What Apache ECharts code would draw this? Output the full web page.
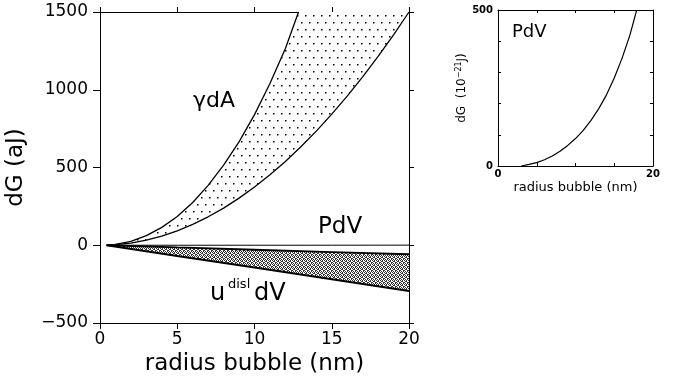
<!DOCTYPE html>
<html><head><meta charset="utf-8">
<script src="https://cdn.jsdelivr.net/npm/echarts@6/dist/echarts.min.js"></script>
<style>html,body{margin:0;padding:0;background:#fff}#c{width:683px;height:383px}</style>
</head><body><div id="c"></div>
<script>
// ---- data ----
const xTicks = [0, 5, 10, 15, 20];
const yTicksMain = [-500, 0, 500, 1000, 1500];
// gamma dA band, upper curve (aJ)
const gdaUpperR = [0.43, 1, 2, 3, 4, 5, 6, 7, 8, 9, 10, 11, 12, 12.85];
const gdaUpperV = [0, 6, 25, 62, 115, 185, 275, 385, 515, 665, 840, 1040, 1265, 1500];
// gamma dA band, lower curve (aJ)
const gdaLowerR = [0.43, 1, 2, 3, 4, 5, 6, 7, 8, 9, 10, 11, 12, 13, 14, 15, 16, 17, 18, 19, 20];
const gdaLowerV = [0, 4, 14, 33, 59, 93, 134, 183, 239, 303, 374, 453, 539, 633, 734, 843, 959, 1083, 1214, 1353, 1500];
// u_disl dV band (aJ)
const udR = [0.43, 5, 10, 15, 20];
const udUpperV = [0, -14, -29, -44, -58];
const udLowerV = [0, -69, -143, -218, -294];
// PdV in main chart (aJ)
const pdvMainR = [0.43, 5, 10, 15, 20];
const pdvMainV = [0, 0.01, 0.09, 0.28, 0.72];
// inset PdV (10^-21 J)
const pdvR = [3, 4, 5, 6, 7, 8, 9, 10, 11, 12, 13, 14, 15, 16, 17, 17.9];
const pdvV = [0, 5, 11, 20, 32, 47, 66, 88, 114, 146, 184, 228, 282, 345, 418, 500];

const MAIN_YMAX = 1500;
const FONT = 'DejaVu Sans';

// ---- patterns ----
function dotPattern() {
  const c = document.createElement('canvas'); c.width = 8; c.height = 14;
  const g = c.getContext('2d'); g.fillStyle = '#fff'; g.fillRect(0, 0, 8, 14);
  g.fillStyle = '#000';
  g.fillRect(1, 1, 1.5, 1.5); g.fillRect(5, 8, 1.5, 1.5);
  return c;
}
function hatchPattern() {
  const rows = ['X.X.', '.XX.', 'X..X', '.X.X'];
  const c = document.createElement('canvas'); c.width = 4; c.height = 4;
  const g = c.getContext('2d'); g.fillStyle = '#fff'; g.fillRect(0, 0, 4, 4);
  g.fillStyle = '#333';
  rows.forEach((r, y) => { for (let x = 0; x < 4; x++) if (r[x] === 'X') g.fillRect(x, y, 1, 1); });
  return c;
}
const dotFill = { image: dotPattern(), repeat: 'repeat' };
const hatchFill = { image: hatchPattern(), repeat: 'repeat' };

function pairs(r, v) { return r.map((x, i) => [x, v[i]]); }

function bandRender(upR, upV, loR, loV, fill) {
  return function (params, api) {
    if (params.dataIndex !== 0) return;
    const pts = [];
    for (let i = 0; i < upR.length; i++) pts.push(api.coord([upR[i], upV[i]]));
    for (let i = loR.length - 1; i >= 0; i--) pts.push(api.coord([loR[i], loV[i]]));
    return { type: 'polygon', shape: { points: pts }, style: { fill: fill, stroke: null } };
  };
}

const gdaTopR = gdaUpperR.concat([20]);
const gdaTopV = gdaUpperV.concat([MAIN_YMAX]);

function lineSeries(r, v, xi, yi, w) {
  return { type: 'line', data: pairs(r, v), xAxisIndex: xi, yAxisIndex: yi, symbol: 'none',
    lineStyle: { color: '#000', width: w }, silent: true, z: 5, clip: true };
}

const axisBase = { axisLine: { show: true, onZero: false, lineStyle: { color: '#000', width: 1 } }, splitLine: { show: false } };

const chart = echarts.init(document.getElementById('c'), null, { renderer: 'canvas' });
chart.setOption({
  animation: false,
  backgroundColor: '#fff',
  grid: [
    { left: 100, top: 12, width: 309, height: 311 },
    { left: 498, top: 10, width: 155, height: 156 }
  ],
  xAxis: [
    Object.assign({}, axisBase, { gridIndex: 0, type: 'value', position: 'bottom', min: xTicks[0], max: xTicks[xTicks.length - 1], interval: 5,
      axisTick: { show: true, inside: false, length: 6, lineStyle: { color: '#000' } },
      axisLabel: { show: true, margin: 8, color: '#000', fontFamily: FONT, fontSize: 17 },
      name: 'radius bubble (nm)', nameLocation: 'middle', nameGap: 26,
      nameTextStyle: { color: '#000', fontFamily: FONT, fontSize: 23 } }),
    Object.assign({}, axisBase, { gridIndex: 0, type: 'value', position: 'top', min: 0, max: 20, interval: 5,
      axisTick: { show: true, inside: false, length: 5, lineStyle: { color: '#000' } }, axisLabel: { show: false } }),
    Object.assign({}, axisBase, { gridIndex: 1, type: 'value', position: 'bottom', min: 0, max: 20, interval: 5,
      axisTick: { show: true, inside: true, length: 3, lineStyle: { color: '#000' } },
      axisLabel: { show: true, margin: 3, color: '#000', fontFamily: FONT, fontSize: 10, fontWeight: 'bold',
        formatter: v => (v === 0 || v === 20) ? String(v) : '' },
      name: 'radius bubble (nm)', nameLocation: 'middle', nameGap: 15,
      nameTextStyle: { color: '#000', fontFamily: FONT, fontSize: 13 } }),
    Object.assign({}, axisBase, { gridIndex: 1, type: 'value', position: 'top', min: 0, max: 20, interval: 5,
      axisTick: { show: true, inside: true, length: 3, lineStyle: { color: '#000' } }, axisLabel: { show: false } })
  ],
  yAxis: [
    Object.assign({}, axisBase, { gridIndex: 0, type: 'value', position: 'left', min: yTicksMain[0], max: yTicksMain[yTicksMain.length - 1], interval: 500,
      axisTick: { show: true, inside: false, length: 7, lineStyle: { color: '#000' } },
      axisLabel: { show: true, margin: 12, color: '#000', fontFamily: FONT, fontSize: 17,
        formatter: v => String(v).replace('-', '\u2212') },
      name: 'dG (aJ)', nameLocation: 'middle', nameGap: 72, nameRotate: 90,
      nameTextStyle: { color: '#000', fontFamily: FONT, fontSize: 23 } }),
    Object.assign({}, axisBase, { gridIndex: 0, type: 'value', position: 'right', min: -500, max: 1500, interval: 500,
      axisTick: { show: true, inside: false, length: 5, lineStyle: { color: '#000' } }, axisLabel: { show: false } }),
    Object.assign({}, axisBase, { gridIndex: 1, type: 'value', position: 'left', min: 0, max: 500, interval: 100,
      axisTick: { show: true, inside: true, length: 3, lineStyle: { color: '#000' } },
      axisLabel: { show: true, margin: 5, color: '#000', fontFamily: FONT, fontSize: 10, fontWeight: 'bold',
        formatter: v => (v === 0 || v === 500) ? String(v) : '' },
      name: '{n|dG  (10}{s|\u221221}{n|J)}', nameLocation: 'middle', nameGap: 26, nameRotate: 90,
      nameTextStyle: { color: '#000', fontFamily: FONT, fontSize: 12,
        rich: { n: { fontFamily: FONT, fontSize: 12, lineHeight: 15, color: '#000' },
                s: { fontFamily: FONT, fontSize: 8, lineHeight: 15, verticalAlign: 'top', color: '#000' } } } }),
    Object.assign({}, axisBase, { gridIndex: 1, type: 'value', position: 'right', min: 0, max: 500, interval: 100,
      axisTick: { show: true, inside: true, length: 3, lineStyle: { color: '#000' } }, axisLabel: { show: false } })
  ],
  series: [
    { type: 'custom', coordinateSystem: 'cartesian2d', xAxisIndex: 0, yAxisIndex: 0, clip: true, silent: true, z: 2,
      data: [[0, 0]], renderItem: bandRender(gdaTopR, gdaTopV, gdaLowerR, gdaLowerV, dotFill) },
    { type: 'custom', coordinateSystem: 'cartesian2d', xAxisIndex: 0, yAxisIndex: 0, clip: true, silent: true, z: 2,
      data: [[0, 0]], renderItem: bandRender(udR, udUpperV, udR, udLowerV, hatchFill) },
    lineSeries(gdaUpperR, gdaUpperV, 0, 0, 1.3),
    lineSeries(gdaLowerR, gdaLowerV, 0, 0, 1.3),
    lineSeries(udR, udUpperV, 0, 0, 1.8),
    lineSeries(udR, udLowerV, 0, 0, 2),
    lineSeries(pdvMainR, pdvMainV, 0, 0, 1),
    lineSeries(pdvR, pdvV, 2, 2, 1.2)
  ],
  graphic: [
    { type: 'text', left: 193, top: 90, silent: true, style: { text: '\u03b3dA', fill: '#000', font: '22px "DejaVu Sans"' } },
    { type: 'text', left: 318, top: 216, silent: true, style: { text: 'PdV', fill: '#000', font: '23px "DejaVu Sans"' } },
    { type: 'text', left: 210, top: 282, silent: true, style: { text: 'u', fill: '#000', font: '24px "DejaVu Sans"' } },
    { type: 'text', left: 228, top: 278, silent: true, style: { text: 'disl', fill: '#000', font: '13px "DejaVu Sans"' } },
    { type: 'text', left: 254, top: 282, silent: true, style: { text: 'dV', fill: '#000', font: '24px "DejaVu Sans"' } },
    { type: 'text', left: 512, top: 23, silent: true, style: { text: 'PdV', fill: '#000', font: '18px "DejaVu Sans"' } }
  ]
});
</script>
</body></html>
